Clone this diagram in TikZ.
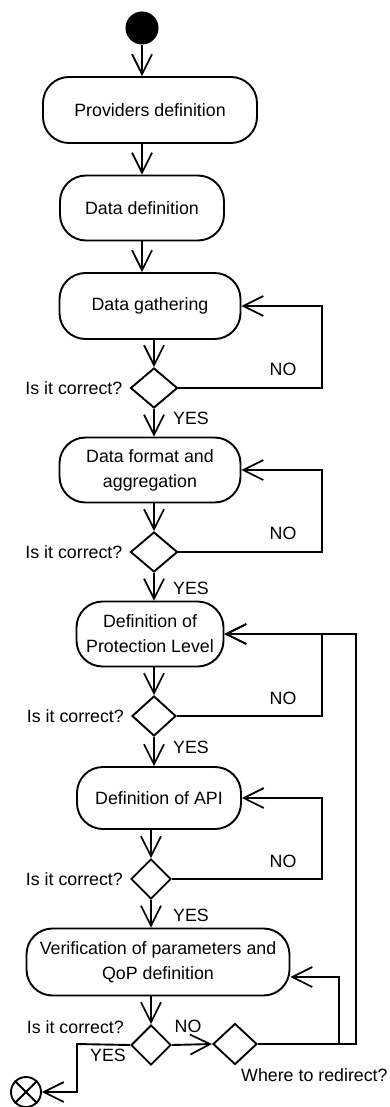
\documentclass[tikz,border=0pt]{standalone}
\usepackage{fontspec}
\setmainfont{Liberation Sans}
\usetikzlibrary{shapes.geometric,arrows.meta,positioning,calc}
\tikzset{
  act/.style={draw, rectangle, rounded corners=26pt, line width=1.9pt, align=center, inner sep=0pt},
  dec/.style={draw, diamond, line width=1.9pt, minimum width=44pt, minimum height=40pt, inner sep=0pt},
  lbl/.style={inner sep=0pt},
  wire/.style={line width=1.9pt},
  flow/.style={wire, -{Straight Barb[length=20pt,width=20pt,line width=1.7pt]}}
}
\begin{document}
\begin{tikzpicture}[x=1pt,y=-1pt,font=\fontsize{17.8pt}{25pt}\selectfont]
\useasboundingbox (0,0) rectangle (389,1107);
\node[circle, fill=black, minimum size=33pt, inner sep=0pt] (start) at (142,28) {};
\node[act, minimum width=214pt, minimum height=66pt] (prov) at (150,110) {Providers definition};
\node[act, minimum width=164pt, minimum height=65pt] (ddef) at (142,208) {Data definition};
\node[act, minimum width=181pt, minimum height=66pt] (gath) at (150,306) {Data gathering};
\node[dec, minimum width=47pt] (d1) at (154,388) {};
\node[act, minimum width=181pt, minimum height=65pt] (fmt) at (150,470) {Data format and\\aggregation};
\node[dec, minimum width=47pt] (d2) at (154,552) {};
\node[act, minimum width=147pt, minimum height=65pt] (prot) at (150,634) {Definition of\\Protection Level};
\node[dec] (d3) at (154,716) {};
\node[act, minimum width=164pt, minimum height=62pt] (api) at (159,798) {Definition of API};
\node[dec, minimum width=40pt] (d4) at (151,879) {};
\node[act, minimum width=263pt, minimum height=67pt] (ver) at (158,962) {Verification of parameters and\\QoP definition};
\node[dec, minimum width=40pt] (d5) at (151,1045) {};
\node[dec, minimum height=41pt] (d6) at (235,1044) {};
\node[circle, draw, line width=1.9pt, minimum size=30pt, inner sep=0pt] (endn) at (26,1092) {};
\draw[wire] (endn.45) -- (endn.225) (endn.135) -- (endn.315);
\coordinate (inner) at (322,0);
\coordinate (redir) at (339,0);
\coordinate (outer) at (356,0);
\coordinate (yesbend) at (77,1044);
\coordinate (verin) at ($(ver.east)+(0,15)$);
\draw[flow] (start.south) -- (start.south |- prov.north);
\draw[flow] (prov.south -| ddef.north) -- (ddef.north);
\draw[flow] (ddef.south) -- (ddef.south |- gath.north);
\draw[flow] (gath.south -| d1.north) -- (d1.north);
\draw[flow] (d1.south) -- (d1.south |- fmt.north);
\draw[flow] (fmt.south -| d2.north) -- (d2.north);
\draw[flow] (d2.south) -- (d2.south |- prot.north);
\draw[flow] (prot.south -| d3.north) -- (d3.north);
\draw[flow] (d3.south) -- (d3.south |- api.north);
\draw[flow] (api.south -| d4.north) -- (d4.north);
\draw[flow] (d4.south) -- (d4.south |- ver.north);
\draw[flow] (ver.south -| d5.north) -- (d5.north);
\draw[flow] (d5.east) -- (d6.west);
\draw[flow] (d5.west) -- (yesbend) |- (endn.east);
\draw[flow] (d1.east) -| (inner |- gath.east) -- (gath.east);
\draw[flow] (d2.east) -| (inner |- fmt.east) -- (fmt.east);
\draw[flow] (d3.east) -| (inner |- prot.east) -- (prot.east);
\draw[flow] (d4.east) -| (inner |- api.east) -- (api.east);
\draw[flow] (d6.east) -| (outer |- prot.east) -- (prot.east);
\draw[flow] (redir |- d6.east) |- (verin);
\node[lbl, left=7pt of d1] {Is it correct?};
\node[lbl, left=7pt of d2] {Is it correct?};
\node[lbl, left=7pt of d3] {Is it correct?};
\node[lbl, left=7pt of d4] {Is it correct?};
\node[lbl, anchor=east] at (124,1027) {Is it correct?};
\node[lbl] at (283,369) {NO};
\node[lbl] at (283,533) {NO};
\node[lbl] at (283,698) {NO};
\node[lbl] at (283,861) {NO};
\node[lbl] at (188,1026) {NO};
\node[lbl, anchor=west] at (173,418) {YES};
\node[lbl, anchor=west] at (173,588) {YES};
\node[lbl, anchor=west] at (173,747) {YES};
\node[lbl, anchor=west] at (173,915) {YES};
\node[lbl] at (108,1055) {YES};
\node[lbl, anchor=west] at (241,1075) {Where to redirect?};
\end{tikzpicture}
\end{document}
